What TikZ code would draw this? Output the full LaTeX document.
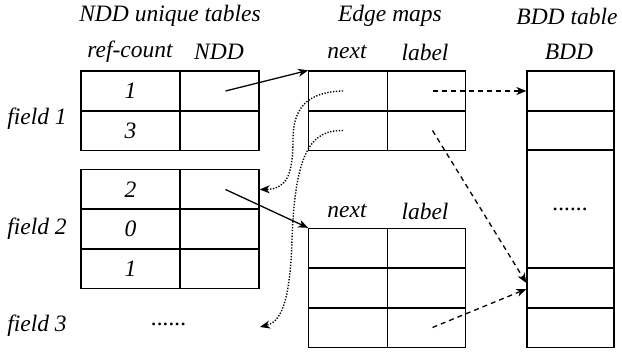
\documentclass[tikz,border=0pt]{standalone}
\usepackage{fontspec}
\setmainfont{Liberation Serif}[ItalicFont={Liberation Serif Italic}]
\usetikzlibrary{arrows.meta}
\begin{document}
\begin{tikzpicture}[x=1pt,y=-1pt,
  every node/.style={font=\fontsize{23.5}{27}\selectfont\itshape, inner sep=0pt},
  cell/.style={draw, line width=1.3pt, minimum height=40pt},
  ca/.style={cell, minimum width=99pt},
  cb/.style={cell, minimum width=79pt},
  ec/.style={cell, minimum width=78.5pt},
  bc/.style={cell, minimum width=87pt},
  lab/.style={anchor=center},
  solidarr/.style={line width=1.3pt, -{Stealth[length=10pt,width=8pt,inset=3pt]}},
  dasharr/.style={line width=1.3pt, dashed, dash pattern=on 5pt off 4pt, -{Stealth[length=10pt,width=8pt,inset=3pt]}},
  dotarr/.style={line width=1.4pt, dotted, dash pattern=on 1.3pt off 1.6pt, -{Stealth[length=10pt,width=8pt,inset=3pt]}}
]
\useasboundingbox (0,0) rectangle (622,352);
% headers
\node[lab] (hndd) at (170,16) {NDD unique tables};
\node[lab] (hedge) at (390,16) {Edge maps};
\node[lab] (hbdd) at (567,16) {BDD table};
\node[lab] (hrc) at (130,52) {ref-count};
\node[lab] (hn) at (219,52) {NDD};
\node[lab] (hnext1) at (347,52) {next};
\node[lab] (hlab1) at (425,52) {label};
\node[lab] (hb) at (569,52) {BDD};
\node[lab] (hnext2) at (347,211) {next};
\node[lab] (hlab2) at (425,211) {label};
% field labels
\node[lab] (f1) at (37,119) {field 1};
\node[lab] (f2) at (37,229) {field 2};
\node[lab] (f3) at (37,326) {field 3};
\node[lab] (f3dots) at (169,324) {......};
% NDD table 1
\node[ca] (n11a) at (130.5,91) {1};
\node[cb] (n11b) at (219.5,91) {};
\node[ca] (n12a) at (130.5,130.5) {3};
\node[cb] (n12b) at (219.5,130.5) {};
% NDD table 2
\node[ca] (n21a) at (130.5,189.5) {2};
\node[cb] (n21b) at (219.5,189.5) {};
\node[ca] (n22a) at (130.5,229) {0};
\node[cb] (n22b) at (219.5,229) {};
\node[ca] (n23a) at (130.5,268.5) {1};
\node[cb] (n23b) at (219.5,268.5) {};
% Edge map 1
\node[ec] (e11a) at (348,91) {};
\node[ec] (e11b) at (426.5,91) {};
\node[ec] (e12a) at (348,130.5) {};
\node[ec] (e12b) at (426.5,130.5) {};
% Edge map 2
\node[ec] (e21a) at (348,248.5) {};
\node[ec] (e21b) at (426.5,248.5) {};
\node[ec] (e22a) at (348,288) {};
\node[ec] (e22b) at (426.5,288) {};
\node[ec] (e23a) at (348,327.5) {};
\node[ec] (e23b) at (426.5,327.5) {};
% BDD table
\node[bc] (b1) at (570.5,91) {};
\node[bc] (b2) at (570.5,130.5) {};
\node[bc, minimum height=118pt] (b3) at (570.5,209) {......};
\node[bc] (b4) at (570.5,288) {};
\node[bc] (b5) at (570.5,327.5) {};
% solid arrows
\draw[solidarr] ([xshift=6pt]n11b.center) -- (e11a.north west);
\draw[solidarr] ([xshift=6pt]n21b.center) -- (e21a.north west);
% dashed arrows
\draw[dasharr] ([xshift=6pt]e11b.center) -- (b1.west);
\draw[dasharr] ([xshift=6pt]e12b.center) -- ([yshift=5pt]b4.west);
\draw[dasharr] ([xshift=6pt]e23b.center) -- ([yshift=-1pt]b4.west);
% dotted arrows
\coordinate (d1) at (293,140);
\coordinate (d2) at (292,240);
\coordinate (t3) at (260,327);
\draw[dotarr] ([xshift=-5pt]e11a.center) .. controls (305,92) and (293,110) .. (d1)
   .. controls (293,178) and (285,189) .. (n21b.east);
\draw[dotarr] ([xshift=-5pt]e12a.center) .. controls (312,130) and (295,150) .. (d2)
   .. controls (290,305) and (280,322) .. (t3);
\end{tikzpicture}
\end{document}
